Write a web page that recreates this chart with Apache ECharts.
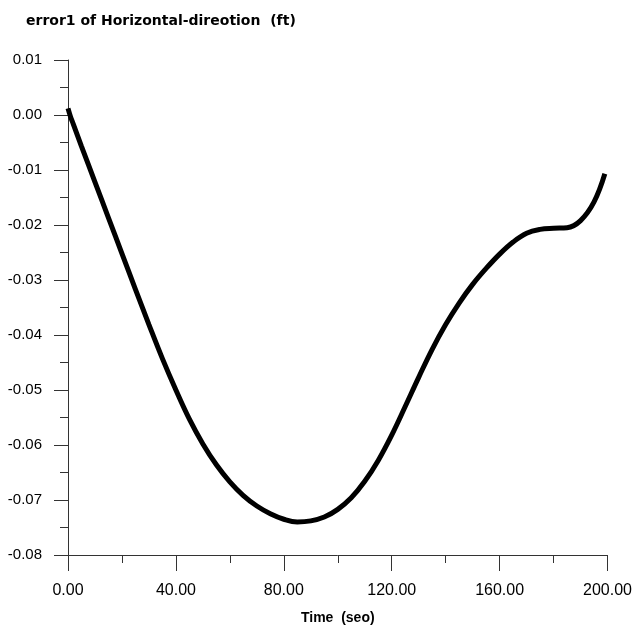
<!DOCTYPE html>
<html>
<head>
<meta charset="utf-8">
<script src="https://cdn.jsdelivr.net/npm/echarts@6/dist/echarts.min.js"></script>
<style>
  html, body { margin: 0; padding: 0; background: #fff; }
  #chart { width: 635px; height: 630px; }
</style>
</head>
<body>
<div id="chart"></div>
<script>
// time (sec) and horizontal error (ft)
var timeValues = [0, 1, 2, 5, 10, 15, 20, 25, 30, 35, 40, 45, 50, 55, 60, 65, 70, 75, 80, 85,
  90, 95, 100, 105, 110, 115, 120, 125, 130, 135, 140, 145, 150, 155, 160, 165, 170, 175,
  180, 185, 190, 195, 199];
var errorValues = [0.0012, -0.0004, -0.0017, -0.0057, -0.0122, -0.0187, -0.0252, -0.0317,
  -0.0381, -0.0443, -0.0500, -0.0553, -0.0598, -0.0636, -0.0667, -0.0692, -0.0711, -0.0725,
  -0.0735, -0.0740, -0.0738, -0.0731, -0.0717, -0.0696, -0.0666, -0.0628, -0.0582, -0.0530,
  -0.0477, -0.0426, -0.0381, -0.0342, -0.0308, -0.0279, -0.0253, -0.0231, -0.0215, -0.0208,
  -0.0206, -0.0205, -0.0192, -0.0158, -0.0107];

var titleText = 'error1 of Horizontal-direotion  (ft)';
var xName = 'Time  (seo)';

var font = '"Liberation Sans", Arial, sans-serif';

function fmt(v) {
  if (Math.abs(v) < 1e-9) v = 0;
  return v.toFixed(2);
}

var chart = echarts.init(document.getElementById('chart'));

var option = {
  backgroundColor: '#fff',
  animation: false,
  title: {
    text: titleText,
    left: 21,
    top: 9,
    textStyle: { fontFamily: '"DejaVu Sans", sans-serif', fontSize: 14, fontWeight: 'bold', color: '#000' }
  },
  grid: { left: 68, right: 26, top: 60, bottom: 74, containLabel: false },
  xAxis: {
    type: 'value',
    min: 0,
    max: 200,
    interval: 40,
    name: xName,
    nameLocation: 'middle',
    nameGap: 56,
    nameTextStyle: { fontFamily: font, fontSize: 14, fontWeight: 'bold', color: '#000' },
    axisLine: { show: true, onZero: false, lineStyle: { color: '#333', width: 1 } },
    axisTick: { show: true, inside: false, length: 16, lineStyle: { color: '#333', width: 1 } },
    minorTick: { show: true, splitNumber: 2, length: 8, lineStyle: { color: '#333', width: 1 } },
    splitLine: { show: false },
    axisLabel: { formatter: fmt, margin: 28, fontFamily: font, fontSize: 16, color: '#000' }
  },
  yAxis: {
    type: 'value',
    min: -0.08,
    max: 0.01,
    interval: 0.01,
    axisLine: { show: true, onZero: false, lineStyle: { color: '#333', width: 1 } },
    axisTick: { show: true, inside: false, length: 14, lineStyle: { color: '#333', width: 1 } },
    minorTick: { show: true, splitNumber: 2, length: 8, lineStyle: { color: '#333', width: 1 } },
    splitLine: { show: false },
    axisLabel: { formatter: fmt, margin: 26, fontFamily: font, fontSize: 15, color: '#000' }
  },
  series: [{
    type: 'line',
    data: timeValues.map(function (t, i) { return [t, errorValues[i]]; }),
    showSymbol: false,
    smooth: 0.4,
    lineStyle: { color: '#000', width: 5 }
  }]
};

chart.setOption(option);
</script>
</body>
</html>
